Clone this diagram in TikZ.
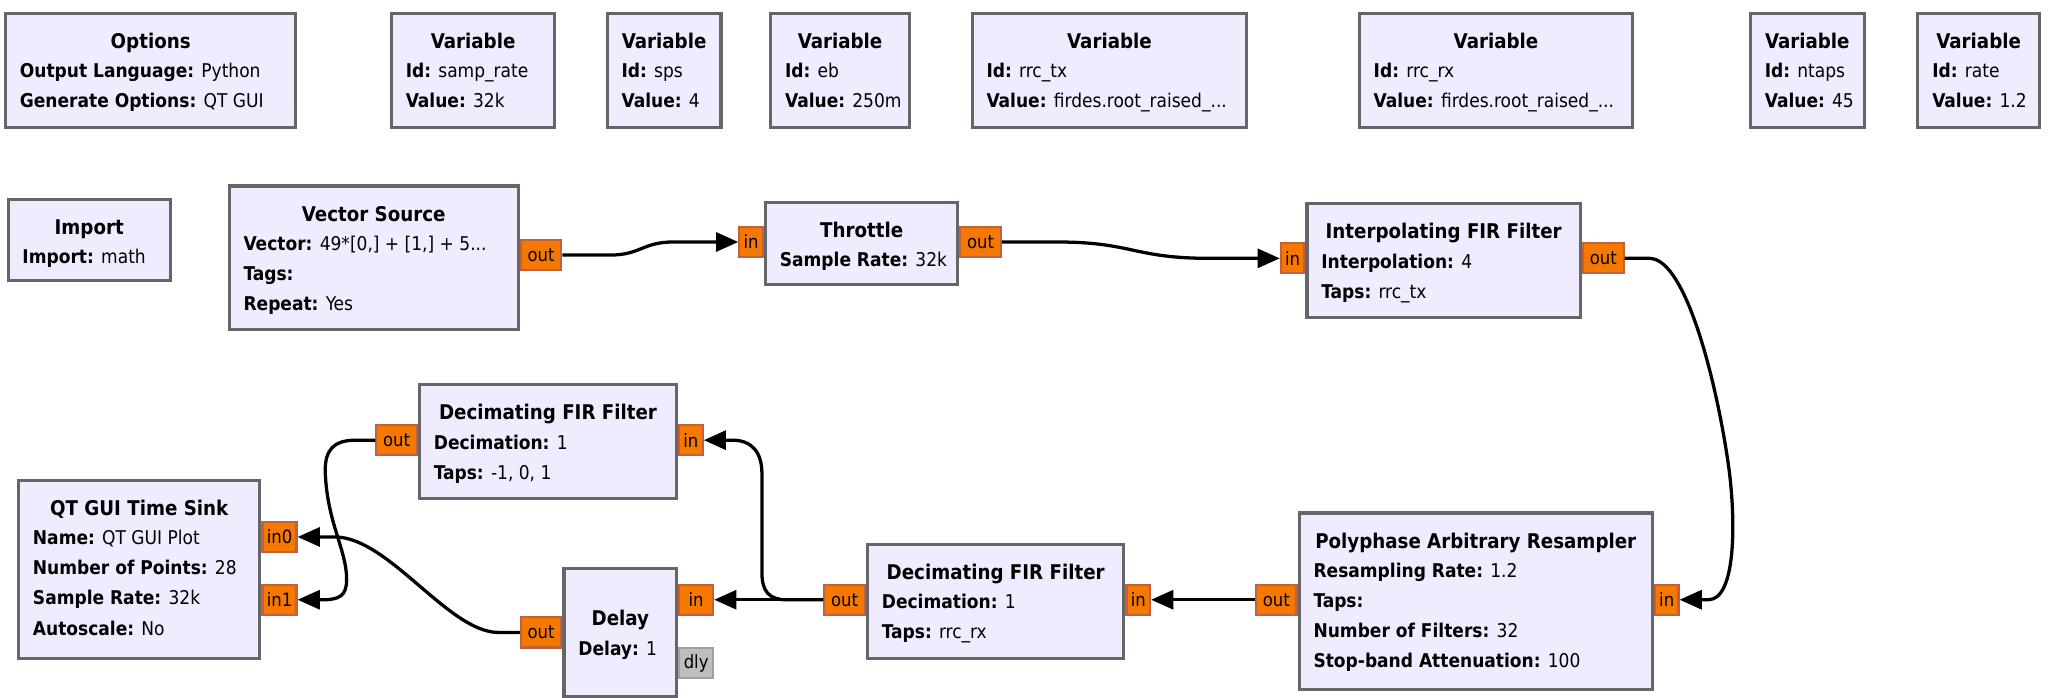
\documentclass[tikz,border=0pt]{standalone}
\usepackage{fontspec}
\setmainfont{DejaVu Sans Condensed}
\usetikzlibrary{arrows.meta}
\definecolor{blkfill}{RGB}{240,236,255}
\definecolor{blkdraw}{RGB}{102,102,102}
\definecolor{portfill}{RGB}{245,121,0}
\definecolor{portdraw}{RGB}{192,96,60}
\definecolor{dlyfill}{RGB}{190,190,190}
\definecolor{dlydraw}{RGB}{160,160,160}
\tikzset{
 blk/.style={draw=blkdraw, fill=blkfill, line width=2.4pt, anchor=north west, inner sep=0pt},
 ttlst/.style={anchor=base, font=\fontsize{15.5}{17}\selectfont\bfseries, inner sep=0pt},
 kv/.style={anchor=base west, font=\fontsize{14.5}{17}\selectfont, inner sep=0pt},
 port/.style={draw=portdraw, fill=portfill, line width=1.6pt, minimum height=23pt, inner sep=0pt, font=\fontsize{14}{15}\selectfont},
 pin/.style={port, minimum width=18pt},
 pout/.style={port, minimum width=31pt},
 pwide/.style={port, minimum width=26pt},
 pdly/.style={pwide, draw=dlydraw, fill=dlyfill},
 wire/.style={line width=2.5pt, black},
 arr/.style={wire, -{Triangle[length=17pt,width=14.5pt]}},
}
\newcommand{\blockat}[5]{\node[blk, minimum width=#4pt, minimum height=#5pt] (#1) at (#2,#3) {};}
\newcommand{\ttl}[3]{\node[ttlst] at ([yshift=-#2pt]#1.north) {#3};}
\newcommand{\kvl}[4]{\node[kv] at ([xshift=12pt,yshift=-#2pt]#1.north west) {\textbf{#3:} #4};}
\begin{document}
\begin{tikzpicture}[x=1pt,y=-1pt]
\useasboundingbox (0,0) rectangle (1568,533);
% top row
\blockat{opt}{3}{9}{222}{87}
\ttl{opt}{28}{Options}
\kvl{opt}{50.5}{Output Language}{Python}
\kvl{opt}{73.5}{Generate Options}{QT GUI}
\blockat{v1}{298}{9}{125}{87}
\ttl{v1}{28}{Variable}
\kvl{v1}{50.5}{Id}{samp\_rate}
\kvl{v1}{73.5}{Value}{32k}
\blockat{v2}{463}{9}{87}{87}
\ttl{v2}{28}{Variable}
\kvl{v2}{50.5}{Id}{sps}
\kvl{v2}{73.5}{Value}{4}
\blockat{v3}{588}{9}{106}{87}
\ttl{v3}{28}{Variable}
\kvl{v3}{50.5}{Id}{eb}
\kvl{v3}{73.5}{Value}{250m}
\blockat{v4}{742}{9}{210}{87}
\ttl{v4}{28}{Variable}
\kvl{v4}{50.5}{Id}{rrc\_tx}
\kvl{v4}{73.5}{Value}{firdes.root\_raised\_...}
\blockat{v5}{1038}{9}{209}{87}
\ttl{v5}{28}{Variable}
\kvl{v5}{50.5}{Id}{rrc\_rx}
\kvl{v5}{73.5}{Value}{firdes.root\_raised\_...}
\blockat{v6}{1337}{9}{87}{87}
\ttl{v6}{28}{Variable}
\kvl{v6}{50.5}{Id}{ntaps}
\kvl{v6}{73.5}{Value}{45}
\blockat{v7}{1465}{9}{93}{87}
\ttl{v7}{28}{Variable}
\kvl{v7}{50.5}{Id}{rate}
\kvl{v7}{73.5}{Value}{1.2}
% second row
\blockat{imp}{5}{151}{124}{62}
\ttl{imp}{28}{Import}
\kvl{imp}{50.5}{Import}{math}
\blockat{vs}{174}{141}{221}{110}
\ttl{vs}{28}{Vector Source}
\kvl{vs}{50.5}{Vector}{49*[0,] + [1,] + 5...}
\kvl{vs}{73.5}{Tags}{}
\kvl{vs}{96.5}{Repeat}{Yes}
\blockat{thr}{584}{153.5}{147}{62.5}
\ttl{thr}{28}{Throttle}
\kvl{thr}{50.5}{Sample Rate}{32k}
\blockat{ip}{998}{154.5}{209}{87}
\ttl{ip}{28}{Interpolating FIR Filter}
\kvl{ip}{50.5}{Interpolation}{4}
\kvl{ip}{73.5}{Taps}{rrc\_tx}
% third row
\blockat{dt}{319.5}{293}{196.5}{87}
\ttl{dt}{28}{Decimating FIR Filter}
\kvl{dt}{50.5}{Decimation}{1}
\kvl{dt}{73.5}{Taps}{-1, 0, 1}
\blockat{qt}{13}{366}{184.5}{136}
\ttl{qt}{28}{QT GUI Time Sink}
\kvl{qt}{50.5}{Name}{QT GUI Plot}
\kvl{qt}{73.5}{Number of Points}{28}
\kvl{qt}{96.5}{Sample Rate}{32k}
\kvl{qt}{119.5}{Autoscale}{No}
\blockat{dl}{430}{433.5}{86}{97.5}
\ttl{dl}{44.5}{Delay}
\kvl{dl}{67.5}{Delay}{1}
\blockat{db}{662}{415}{196}{87}
\ttl{db}{28}{Decimating FIR Filter}
\kvl{db}{50.5}{Decimation}{1}
\kvl{db}{73.5}{Taps}{rrc\_rx}
\blockat{pp}{992}{391}{270}{135}
\ttl{pp}{28}{Polyphase Arbitrary Resampler}
\kvl{pp}{50.5}{Resampling Rate}{1.2}
\kvl{pp}{73.5}{Taps}{}
\kvl{pp}{96.5}{Number of Filters}{32}
\kvl{pp}{119.5}{Stop-band Attenuation}{100}
% ports
\node[pout, anchor=west] (vs-out) at (vs.east |- 0,195) {out};
\node[pin, anchor=east] (thr-in) at (thr.west |- 0,185) {in};
\node[pout, anchor=west] (thr-out) at (thr.east |- 0,185) {out};
\node[pin, anchor=east] (ip-in) at (ip.west |- 0,197.5) {in};
\node[pout, anchor=west] (ip-out) at (ip.east |- 0,197.5) {out};
\node[pout, anchor=east] (dt-out) at (dt.west |- 0,336.5) {out};
\node[pin, anchor=west] (dt-in) at (dt.east |- 0,336.5) {in};
\node[pwide, anchor=west] (qt-in0) at (qt.east |- 0,410.5) {in0};
\node[pwide, anchor=west] (qt-in1) at (qt.east |- 0,458.5) {in1};
\node[pwide, anchor=west] (dl-in) at (dl.east |- 0,458.5) {in};
\node[pout, anchor=east] (dl-out) at (dl.west |- 0,483.5) {out};
\node[pdly, anchor=west] (dl-dly) at (dl.east |- 0,507) {dly};
\node[pout, anchor=east] (db-out) at (db.west |- 0,458.5) {out};
\node[pin, anchor=west] (db-in) at (db.east |- 0,458.5) {in};
\node[pout, anchor=east] (pp-out) at (pp.west |- 0,458.5) {out};
\node[pin, anchor=west] (pp-in) at (pp.east |- 0,458.5) {in};
% wires
\draw[arr] (vs-out.east) -- (466,195) .. controls (490,195) and (491,185) .. (515,185) -- (thr-in.west);
\draw[arr] (thr-out.east) -- (808,185) .. controls (866,185) and (866,197.5) .. (925,197.5) -- (ip-in.west);
\draw[arr] (ip-out.east) -- (1261,197.5) .. controls (1290,197.5) and (1314,300) .. (1322,360) .. controls (1327,400) and (1327,458.5) .. (1306,458.5) -- (pp-in.east);
\draw[arr] (pp-out.west) -- (db-in.east);
\draw[arr] (db-out.west) -- (dl-in.east);
\draw[arr] (db-out.west) -- (601,458.5) .. controls (588,458.5) and (582.5,452) .. (582.5,438) -- (582.5,362) .. controls (582.5,346) and (575,336.5) .. (560,336.5) -- (dt-in.east);
\draw[arr] (dt-out.west) -- (272,336.5) .. controls (254,336.5) and (248.6,345) .. (248.6,360) .. controls (250,400) and (265,420) .. (265,443) .. controls (265,455) and (260,458.5) .. (247,458.5) -- (qt-in1.east);
\draw[arr] (dl-out.west) -- (381,483.5) .. controls (343,483.5) and (297,410.5) .. (256,410.5) -- (qt-in0.east);
\end{tikzpicture}
\end{document}
